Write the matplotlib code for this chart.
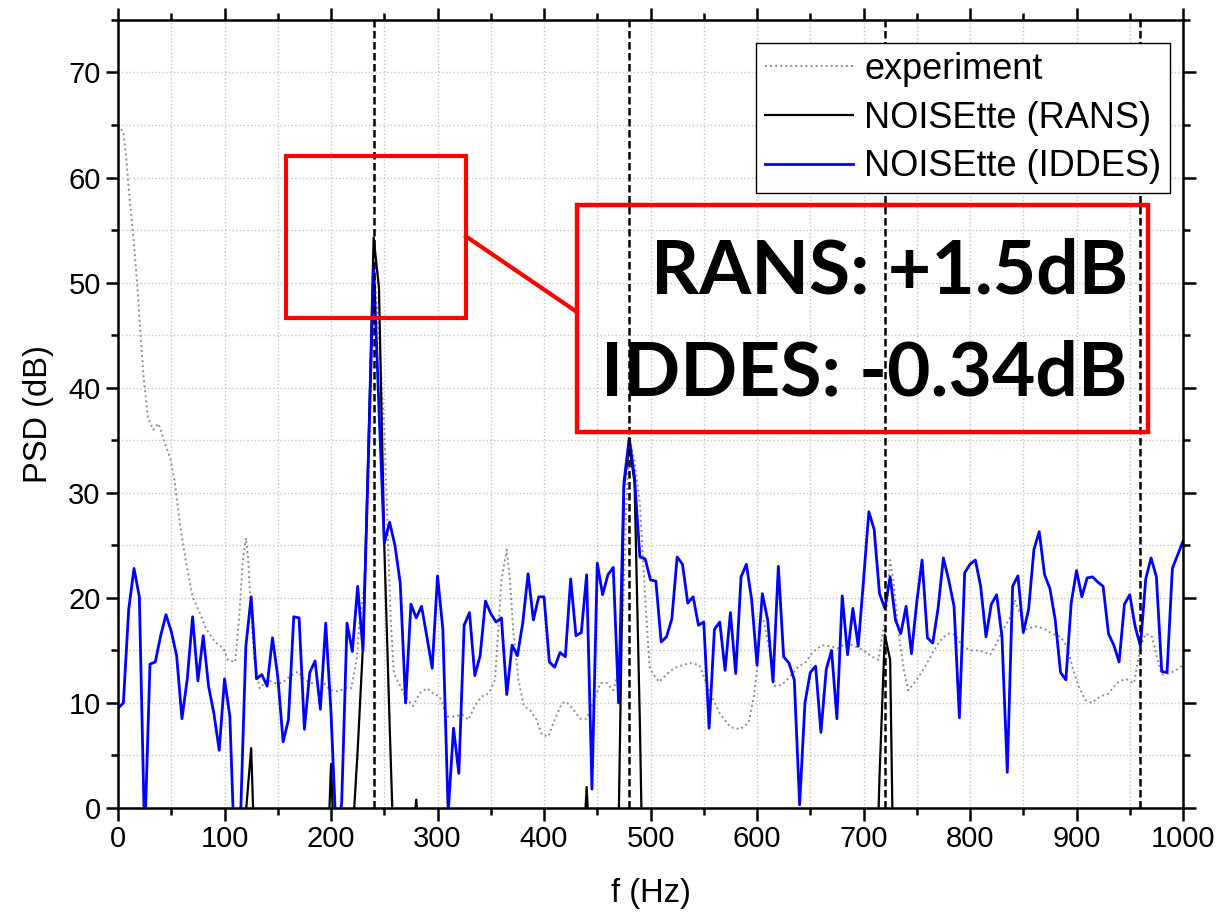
import numpy as np
import matplotlib
matplotlib.use("Agg")
import matplotlib.pyplot as plt
from matplotlib.patches import Rectangle
from matplotlib.ticker import MultipleLocator

plt.rcParams['font.family'] = ['Liberation Sans', 'DejaVu Sans']

# IDDES spectrum, 5 Hz bins from 0 to 1000 Hz
freq = np.arange(0, 1001, 5)
iddes_db = [
    9.5, 10.0, 18.9, 22.8, 20.1, -3.0, 13.7, 13.9, 16.4, 18.4,     # 0-45
    16.8, 14.5, 8.5, 12.3, 18.2, 12.1, 16.4, 11.6, 9.0, 5.5,       # 50-95
    12.3, 8.7, -6.0, -1.0, 15.4, 20.1, 12.3, 12.7, 11.6, 16.2,     # 100-145
    12.5, 6.3, 8.4, 18.2, 18.1, 7.5, 12.9, 14.0, 9.4, 17.6,        # 150-195
    9.0, -3.0, 0.5, 17.6, 14.9, 21.1, 15.0, 33.0, 51.5, 38.0,      # 200-245
    25.2, 27.2, 25.0, 21.4, 10.0, 19.4, 18.1, 19.2, 16.3, 13.3,    # 250-295
    22.1, 17.0, -0.5, 7.6, 3.3, 17.4, 18.6, 12.6, 14.5, 19.7,      # 300-345
    18.5, 17.7, 18.1, 10.8, 15.5, 14.5, 17.6, 22.3, 17.9, 20.1,    # 350-395
    20.1, 13.9, 13.4, 14.8, 14.4, 21.8, 16.4, 16.7, 22.2, 1.8,     # 400-445
    23.3, 20.3, 22.2, 22.9, 10.0, 31.0, 35.2, 31.4, 23.9, 23.7,    # 450-495
    21.7, 21.6, 15.8, 16.3, 18.0, 23.9, 23.2, 19.5, 20.1, 17.4,    # 500-545
    17.7, 7.6, 17.0, 17.7, 13.1, 18.6, 12.8, 22.0, 23.2, 19.8,     # 550-595
    13.6, 20.4, 17.9, 12.0, 23.0, 14.4, 13.8, 12.2, 0.3, 10.0,     # 600-645
    12.9, 13.5, 7.2, 13.2, 15.0, 8.5, 20.2, 14.6, 19.0, 15.4,      # 650-695
    21.7, 28.2, 26.5, 20.4, 19.0, 22.0, 17.9, 16.6, 19.2, 14.7,    # 700-745
    19.6, 23.6, 16.2, 15.7, 19.0, 23.8, 21.7, 19.2, 8.6, 22.4,     # 750-795
    23.2, 23.6, 21.1, 16.3, 19.4, 20.3, 16.3, 3.4, 21.1, 22.1,     # 800-845
    16.7, 18.9, 24.6, 26.3, 22.2, 20.9, 17.9, 12.9, 12.2, 19.5,    # 850-895
    22.6, 20.1, 21.9, 22.0, 21.5, 21.1, 16.6, 15.5, 13.9, 19.4,    # 900-945
    20.3, 17.3, 15.4, 21.8, 23.8, 22.0, 13.0, 12.9, 22.8, 24.1,    # 950-995
    25.4,                                                           # 1000
]

# RANS spectrum: only the parts above 0 dB are visible, the rest lies below the axis
rans_f = [0, 115, 120, 125, 130, 195, 200, 205, 220, 225, 230, 235, 240, 245,
          250, 255, 260, 275, 280, 285, 435, 440, 445, 465, 470, 475, 480, 485,
          490, 495, 710, 715, 720, 725, 730, 1000]
rans_db = [-20, -20, -0.5, 5.7, -10, -10, 4.2, -10, -3, 5.5, 15.5, 34.0, 54.3, 49.5,
           25.0, 8.0, -8, -5, 0.8, -5, -8, 2.0, -8, -20, -2, 30.5, 34.5, 31.0,
           8.0, -20, -15, 3.0, 16.5, 14.1, -20, -20]

# experiment
exp_f = [0, 5, 7, 11, 14, 18, 21, 24, 28, 33, 38, 44, 49, 53, 58, 64, 70, 77, 83,
         91, 99, 103, 110, 114, 117, 120, 122, 125, 128, 133, 141, 147, 154, 161,
         169, 175, 182, 191, 199, 207, 213, 219, 224, 227, 232, 236, 240, 245, 250,
         253, 256, 259, 265, 270, 277, 283, 290, 296, 302, 309, 316, 323, 329, 335,
         341, 348, 354, 357, 360, 365, 368, 371, 376, 381, 387, 393, 398, 404, 410,
         417, 421, 428, 434, 440, 447, 453, 459, 465, 470, 474, 477, 480, 485, 490,
         495, 499, 502, 508, 516, 522, 530, 537, 546, 556, 565, 575, 584, 592, 597,
         600, 603, 606, 611, 617, 623, 631, 639, 645, 653, 661, 669, 676, 684, 692,
         700, 708, 714, 717, 722, 725, 728, 733, 738, 742, 750, 758, 766, 774, 780,
         786, 792, 800, 809, 819, 825, 831, 838, 842, 847, 853, 861, 869, 877, 885,
         891, 897, 902, 908, 914, 922, 930, 938, 946, 954, 960, 965, 971, 976, 980,
         987, 993, 1000]
exp_db = [65.0, 64.3, 62.6, 57.9, 54.7, 49.9, 45.2, 41.0, 37.2, 36.0, 36.6, 34.7,
          33.3, 31.2, 27.1, 23.3, 20.1, 18.5, 17.0, 15.8, 15.2, 14.1, 13.9, 18.5,
          23.3, 25.7, 23.9, 18.5, 14.1, 11.4, 12.2, 11.9, 11.9, 12.5, 13.0, 12.2,
          11.9, 12.2, 11.2, 11.1, 11.4, 11.4, 14.1, 17.9, 21.7, 35.0, 52.3, 45.0,
          36.0, 27.0, 18.0, 12.8, 11.6, 10.6, 9.7, 10.9, 11.4, 10.9, 10.6, 8.7, 8.7,
          8.9, 8.4, 9.7, 10.6, 10.9, 12.2, 17.0, 21.7, 24.6, 21.7, 17.0, 12.2, 9.7,
          9.3, 8.4, 7.0, 6.8, 8.4, 10.0, 10.1, 9.3, 8.5, 8.5, 10.3, 11.9, 11.9, 11.2,
          13.0, 18.0, 28.0, 35.3, 33.0, 29.0, 20.0, 13.5, 12.8, 12.0, 12.8, 13.3,
          13.6, 13.8, 13.6, 10.9, 9.0, 7.7, 7.5, 8.1, 10.6, 13.1, 17.9, 17.9, 15.4,
          11.6, 11.7, 12.5, 13.5, 13.8, 14.9, 15.5, 15.4, 15.2, 15.7, 15.4, 15.0,
          14.4, 14.1, 16.0, 19.2, 23.6, 21.7, 16.6, 13.1, 11.2, 12.2, 13.5, 15.0,
          16.2, 16.6, 16.5, 15.5, 15.0, 15.0, 14.6, 15.7, 17.0, 18.2, 19.8, 18.5,
          17.0, 17.3, 17.1, 16.6, 16.3, 15.4, 13.1, 11.6, 10.3, 10.0, 10.6, 10.9,
          11.9, 12.3, 11.9, 15.4, 16.6, 16.3, 14.1, 12.7, 12.8, 13.1, 13.6]

harmonics = [240, 480, 720, 960]

fig = plt.figure(figsize=(12.22, 9.24), dpi=100)
ax = fig.add_axes([0.0966, 0.1255, 0.8715, 0.8529])

ax.plot(exp_f, exp_db, color='0.55', ls=(0, (1.0, 1.6)), lw=1.4, label='experiment')
ax.plot(rans_f, rans_db, color='black', lw=1.6, label='NOISEtte (RANS)')
ax.plot(freq, iddes_db, color='blue', lw=2.0, label='NOISEtte (IDDES)')
for h in harmonics:
    ax.axvline(h, color='black', lw=1.8, ls=(0, (3.0, 1.4)))

ax.set_xlim(0, 1000)
ax.set_ylim(0, 75)
ax.xaxis.set_major_locator(MultipleLocator(100))
ax.xaxis.set_minor_locator(MultipleLocator(50))
ax.yaxis.set_major_locator(MultipleLocator(10))
ax.yaxis.set_minor_locator(MultipleLocator(5))
ax.grid(which='both', color='#c4c4c4', ls=':', lw=1.0)
ax.set_axisbelow(True)
ax.tick_params(which='both', direction='out', top=True, right=True, width=1.8,
               labelsize=21)
ax.tick_params(which='major', length=9)
ax.tick_params(which='minor', length=5)
for s in ax.spines.values():
    s.set_linewidth(1.8)

ax.set_xlabel('f (Hz)', fontsize=23.5, labelpad=18)
ax.set_ylabel('PSD (dB)', fontsize=23.5, labelpad=10)

leg = ax.legend(loc='upper right', bbox_to_anchor=(0.988, 0.971), fontsize=26,
                frameon=True, fancybox=False, edgecolor='black', framealpha=1,
                handlelength=2.45, handletextpad=0.3, borderpad=0.25,
                labelspacing=0.38, borderaxespad=0)
leg.get_frame().set_linewidth(1.0)

# annotation: zoom box, connector and result box
ax.add_patch(Rectangle((157.7, 46.6), 169.1, 15.5, fill=False, ec='red', lw=3,
                       zorder=5))
ax.plot([326.8, 431.0], [54.4, 47.2], color='red', lw=3, zorder=5)
ax.add_patch(Rectangle((431.0, 35.8), 536.0, 21.6, fill=False, ec='red', lw=3.2,
                       zorder=5, clip_on=False))
ax.text(948, 49.0, 'RANS: +1.5dB', ha='right', va='baseline', fontsize=54,
        fontweight='bold', family=['Lato', 'DejaVu Sans'], zorder=6)
ax.text(948, 39.3, 'IDDES: -0.34dB', ha='right', va='baseline', fontsize=54,
        fontweight='bold', family=['Lato', 'DejaVu Sans'], zorder=6)

fig.savefig('out.png', dpi=100)
